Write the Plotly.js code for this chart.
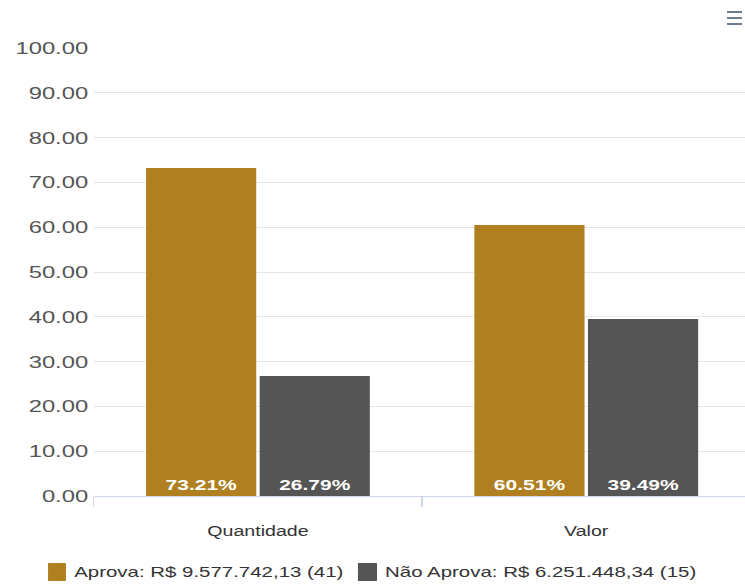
<!DOCTYPE html>
<html>
<head>
<meta charset="utf-8">
<script src="https://cdn.plot.ly/plotly-3.0.1.min.js"></script>
<style>
html,body{margin:0;padding:0;background:#fff;overflow:hidden;width:745px;height:587px;}
#wrap{width:745px;height:587px;overflow:hidden;position:relative;}
#chart{width:536px;height:587px;transform:scaleX(1.4);transform-origin:0 0;position:absolute;left:0;top:0;}
</style>
</head>
<body>
<div id="wrap"><div id="chart"></div></div>
<script>
const categories = ["Quantidade", "Valor"];
const seriesNames = ["Aprova: R$ 9.577.742,13 (41)", "Não Aprova: R$ 6.251.448,34 (15)"];
const aprovaValues = [73.21, 60.51];
const naoAprovaValues = [26.79, 39.49];
const yTicks = [0, 10, 20, 30, 40, 50, 60, 70, 80, 90, 100];

const colors = ["#B08020", "#555555"];
const FONT = "Liberation Sans, Arial, sans-serif";
const labelFont = {family: FONT, size: 15, color: "#ffffff", weight: "bold"};

function makeTrace(name, vals, color) {
  return {
    type: "bar",
    name: name,
    x: categories,
    y: vals,
    marker: {color: color, line: {width: 0}},
    text: vals.map(v => v.toFixed(2) + "%"),
    textposition: "inside",
    insidetextanchor: "start",
    textangle: 0,
    textfont: labelFont,
    hoverinfo: "x+y+name",
    showlegend: false
  };
}

const data = [
  makeTrace(seriesNames[0], aprovaValues, colors[0]),
  makeTrace(seriesNames[1], naoAprovaValues, colors[1])
];

// custom legend (paper coordinates)
const legendItems = [
  {sq: [-0.0697, -0.0424], tx: -0.0345},
  {sq: [0.4023, 0.4313], tx: 0.4395}
];
const shapes = [];
const annotations = [];
legendItems.forEach((it, i) => {
  shapes.push({
    type: "rect", xref: "paper", yref: "paper",
    x0: it.sq[0], x1: it.sq[1], y0: -0.1496, y1: -0.1897,
    fillcolor: colors[i], line: {width: 0}
  });
  annotations.push({
    xref: "paper", yref: "paper", x: it.tx, y: -0.1696,
    xanchor: "left", yanchor: "middle", showarrow: false,
    text: seriesNames[i],
    font: {family: FONT, size: 14.6, color: "#333333"}
  });
});
// menu icon
[1.0804, 1.067, 1.0536].forEach(yy => {
  shapes.push({
    type: "line", xref: "paper", yref: "paper",
    x0: 0.9644, x1: 0.9872, y0: yy, y1: yy,
    line: {color: "#6e7b8b", width: 2}
  });
});

const layout = {
  width: 536,
  height: 587,
  margin: {l: 67, r: 0, t: 48, b: 91},
  paper_bgcolor: "#ffffff",
  plot_bgcolor: "#ffffff",
  font: {family: FONT, color: "#333333"},
  barmode: "group",
  bargap: 0.308,
  bargroupgap: 0.03,
  showlegend: false,
  xaxis: {
    type: "category",
    showline: true,
    linecolor: "#ccd6eb",
    linewidth: 1,
    ticks: "outside",
    tickson: "boundaries",
    ticklen: 10,
    tickcolor: "#ccd6eb",
    tickfont: {family: FONT, size: 14, color: "#333333"},
    ticklabelstandoff: 22,
    showgrid: false,
    zeroline: false,
    fixedrange: true
  },
  yaxis: {
    range: [0, 100],
    tickvals: yTicks,
    tickformat: ".2f",
    tickfont: {family: FONT, size: 17, color: "#555555"},
    ticklabelstandoff: 3,
    showgrid: true,
    gridcolor: "#e6e6e6",
    gridwidth: 1,
    zeroline: false,
    showline: false,
    ticks: "",
    automargin: false,
    fixedrange: true
  },
  shapes: shapes,
  annotations: annotations
};

Plotly.newPlot("chart", data, layout, {displayModeBar: false});
</script>
</body>
</html>
